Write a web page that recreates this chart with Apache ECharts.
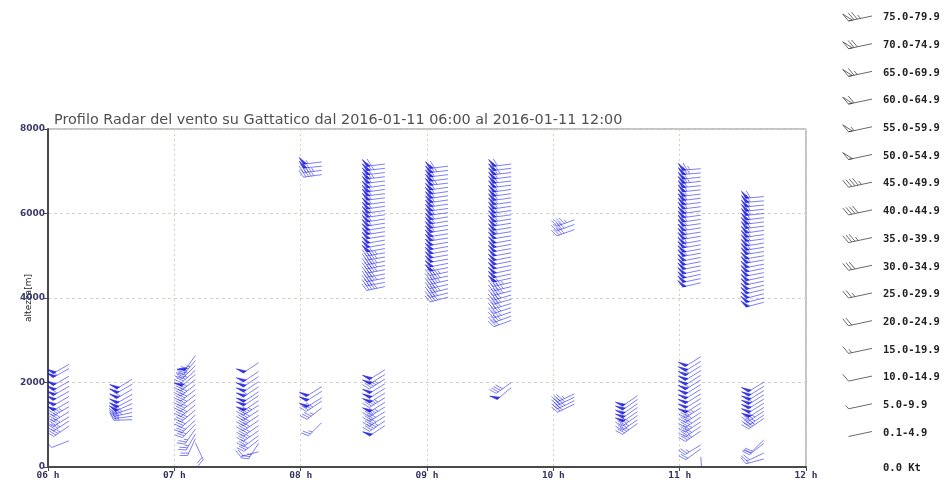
<!DOCTYPE html>
<html>
<head>
<meta charset="utf-8">
<script src="https://cdn.jsdelivr.net/npm/echarts@6/dist/echarts.min.js"></script>
<style>
  html, body { margin: 0; padding: 0; background: #ffffff; }
  #chart { width: 946px; height: 480px; }
</style>
</head>
<body>
<div id="chart"></div>
<script>
// Wind profiler: one vertical profile every 30 minutes.
// Each profile row: [altitude m, speed kt, direction the wind blows from, deg]
const profileTimes = ['06:10', '06:40', '07:10', '07:40', '08:10', '08:40',
                      '09:10', '09:40', '10:10', '10:40', '11:10', '11:40'];

const p0610 = [
  [2430, 50, 240], [2330, 55, 241], [2150, 50, 240], [2030, 50, 240], [1910, 55, 240],
  [1790, 50, 241], [1670, 50, 240], [1550, 50, 240], [1430, 45, 239], [1310, 40, 238],
  [1190, 40, 238], [1090, 35, 237], [970, 35, 236], [620, 10, 249]
];
const p0640 = [
  [2080, 50, 238], [1960, 50, 240], [1840, 55, 240], [1720, 50, 240], [1610, 50, 242],
  [1500, 50, 246], [1390, 40, 252], [1290, 35, 258], [1200, 30, 263], [1120, 25, 268]
];
const p0710 = [
  [2640, 50, 215], [2520, 45, 220], [2400, 35, 225], [2290, 35, 228], [2190, 50, 230],
  [2070, 40, 232], [1950, 40, 232], [1830, 40, 232], [1710, 35, 232], [1590, 35, 232],
  [1470, 35, 231], [1350, 35, 230], [1230, 30, 229], [1110, 30, 227], [1010, 30, 224],
  [900, 25, 215], [780, 25, 210], [670, 20, 205], [570, 20, 155]
];
const p0740 = [
  [2470, 50, 236], [2260, 50, 236], [2140, 50, 236], [2020, 50, 236], [1900, 55, 236],
  [1780, 50, 236], [1690, 50, 236], [1570, 50, 236], [1460, 45, 237], [1340, 40, 237],
  [1220, 40, 236], [1100, 40, 236], [980, 35, 235], [860, 35, 235], [740, 30, 234],
  [640, 30, 232], [560, 25, 213], [360, 20, 255]
];
const p0810 = [
  [7220, 55, 263], [7120, 50, 264], [7020, 45, 263], [6920, 45, 262],
  [1900, 50, 238], [1790, 50, 238], [1640, 50, 238], [1560, 40, 236], [1400, 35, 232],
  [1050, 25, 225]
];
const p0840 = [
  [7170, 60, 263], [7070, 65, 263], [6970, 60, 263], [6870, 65, 263], [6770, 60, 263],
  [6670, 60, 262], [6570, 60, 262], [6470, 60, 263], [6370, 55, 263], [6270, 60, 262],
  [6170, 55, 262], [6070, 55, 262], [5970, 55, 262], [5870, 55, 261], [5770, 55, 261],
  [5670, 50, 261], [5570, 55, 261], [5470, 50, 261], [5370, 50, 260], [5270, 50, 260],
  [5170, 50, 260], [5070, 45, 260], [4970, 45, 260], [4870, 45, 259], [4770, 45, 259],
  [4670, 45, 259], [4570, 40, 259], [4470, 45, 259], [4370, 40, 259], [4270, 45, 258],
  [2300, 50, 238], [2190, 50, 238], [2080, 45, 238], [1970, 50, 238], [1860, 50, 238],
  [1750, 50, 238], [1640, 45, 238], [1530, 50, 238], [1420, 45, 238], [1310, 40, 238],
  [1200, 40, 237], [1090, 45, 236], [980, 50, 236]
];
const p0910 = [
  [7120, 60, 263], [7020, 65, 263], [6920, 60, 263], [6820, 60, 263], [6720, 65, 263],
  [6620, 60, 262], [6520, 60, 262], [6420, 60, 262], [6320, 55, 262], [6220, 60, 262],
  [6120, 55, 262], [6020, 55, 262], [5920, 55, 261], [5820, 55, 261], [5720, 55, 261],
  [5620, 55, 261], [5520, 50, 261], [5420, 55, 261], [5320, 50, 260], [5220, 50, 260],
  [5120, 50, 260], [5020, 50, 260], [4920, 50, 260], [4820, 50, 259], [4720, 50, 259],
  [4620, 45, 258], [4520, 45, 258], [4420, 45, 257], [4320, 40, 257], [4220, 45, 256],
  [4120, 40, 256], [4020, 40, 255]
];
const p0940 = [
  [7170, 60, 263], [7070, 60, 263], [6970, 65, 263], [6870, 60, 263], [6770, 60, 263],
  [6670, 60, 263], [6570, 60, 262], [6470, 55, 262], [6370, 60, 262], [6270, 55, 262],
  [6170, 55, 262], [6070, 55, 262], [5970, 55, 262], [5870, 55, 261], [5770, 55, 261],
  [5670, 50, 261], [5570, 55, 261], [5470, 50, 261], [5370, 50, 260], [5270, 50, 260],
  [5170, 50, 260], [5070, 50, 260], [4970, 50, 259], [4870, 50, 259], [4770, 50, 259],
  [4670, 50, 258], [4570, 50, 258], [4470, 50, 258], [4370, 45, 257], [4270, 45, 256],
  [4170, 45, 255], [4070, 40, 254], [3970, 40, 254], [3870, 40, 253], [3770, 35, 252],
  [3670, 35, 251], [3570, 35, 250], [3470, 30, 250],
  [2000, 40, 234], [1880, 50, 230]
];
const p1010 = [
  [5850, 45, 250], [5740, 40, 250], [5620, 40, 250],
  [1730, 35, 245], [1650, 35, 245], [1570, 35, 244], [1490, 30, 244]
];
const p1040 = [
  [1690, 50, 235], [1600, 50, 235], [1500, 50, 235], [1410, 50, 235], [1310, 50, 236],
  [1220, 40, 235], [1120, 35, 235], [1030, 35, 234]
];
const p1110 = [
  [7060, 65, 265], [6960, 65, 265], [6860, 60, 264], [6760, 65, 264], [6660, 60, 264],
  [6560, 60, 264], [6460, 60, 263], [6360, 60, 263], [6260, 60, 263], [6160, 60, 263],
  [6060, 55, 262], [5960, 60, 262], [5860, 55, 262], [5760, 55, 262], [5660, 55, 261],
  [5560, 55, 261], [5460, 55, 261], [5360, 55, 260], [5260, 55, 260], [5160, 50, 260],
  [5060, 55, 260], [4960, 50, 259], [4860, 50, 259], [4760, 50, 259], [4660, 50, 258],
  [4560, 50, 258], [4460, 50, 258], [4360, 50, 257],
  [2610, 50, 238], [2500, 50, 238], [2390, 55, 238], [2280, 50, 238], [2170, 50, 238],
  [2060, 55, 238], [1950, 50, 238], [1840, 50, 238], [1730, 50, 238], [1620, 50, 238],
  [1510, 50, 238], [1400, 45, 237], [1290, 40, 237], [1180, 40, 236], [1070, 35, 236],
  [960, 40, 236], [850, 35, 236], [520, 25, 239], [430, 20, 234], [240, 10, 175]
];
const p1140 = [
  [6400, 60, 265], [6300, 60, 265], [6200, 60, 264], [6100, 60, 264], [6000, 60, 264],
  [5900, 60, 263], [5800, 55, 263], [5700, 60, 263], [5600, 55, 262], [5500, 55, 262],
  [5400, 55, 262], [5300, 55, 261], [5200, 55, 261], [5100, 55, 261], [5000, 50, 260],
  [4900, 55, 260], [4800, 50, 259], [4700, 50, 259], [4600, 50, 259], [4500, 50, 258],
  [4400, 50, 258], [4300, 50, 257], [4200, 50, 257], [4100, 50, 256], [4000, 50, 256],
  [3900, 50, 255],
  [2010, 50, 238], [1910, 50, 238], [1810, 50, 238], [1710, 55, 238], [1610, 50, 238],
  [1510, 50, 238], [1410, 50, 237], [1320, 40, 237], [1230, 35, 236], [1150, 35, 236],
  [640, 20, 226], [560, 20, 232], [330, 20, 245], [190, 15, 255]
];
const profiles = [p0610, p0640, p0710, p0740, p0810, p0840,
                  p0910, p0940, p1010, p1040, p1110, p1140];

// Speed classes shown in the key (kt)
const speedClassLabels = ['75.0-79.9', '70.0-74.9', '65.0-69.9', '60.0-64.9', '55.0-59.9',
  '50.0-54.9', '45.0-49.9', '40.0-44.9', '35.0-39.9', '30.0-34.9', '25.0-29.9',
  '20.0-24.9', '15.0-19.9', '10.0-14.9', '5.0-9.9', '0.1-4.9'];
const speedClassLow = [75, 70, 65, 60, 55, 50, 45, 40, 35, 30, 25, 20, 15, 10, 5, 0.1];
const calmLabel = '0.0 Kt';

const xTickLabels = ['06 h', '07 h', '08 h', '09 h', '10 h', '11 h', '12 h'];
const titleText = 'Profilo Radar del vento su Gattatico dal 2016-01-11 06:00 al 2016-01-11 12:00';

function toHours(t) {
  const parts = t.split(':');
  return Number(parts[0]) + Number(parts[1]) / 60;
}

const barbData = [];
profiles.forEach(function (rows, i) {
  const x = toHours(profileTimes[i]);
  rows.forEach(function (r) { barbData.push([x, r[0], r[1], r[2]]); });
});

// Wind barb: staff from the anchor toward the direction the wind comes from,
// pennants / full / half feathers at the outer end.
function barbShapes(px, py, kt, dir, o) {
  const a = dir * Math.PI / 180;
  const sx = Math.sin(a), sy = -Math.cos(a);
  const ex = px + sx * o.L, ey = py + sy * o.L;
  const fa = o.ang * Math.PI / 180;
  const fx = sx * Math.cos(fa) - sy * Math.sin(fa);
  const fy = sx * Math.sin(fa) + sy * Math.cos(fa);
  const lineStyle = { stroke: o.color, lineWidth: o.width, fill: null };
  const out = [{ type: 'polyline', shape: { points: [[px, py], [ex, ey]] }, style: lineStyle }];
  const q = function (p) { return [ex - sx * p, ey - sy * p]; };
  let v = Math.floor(kt / 5) * 5;
  let pos = 0;
  while (v >= 50) {
    const b1 = q(pos), b2 = q(pos + o.pw);
    out.push({
      type: 'polygon',
      shape: { points: [b1, [b1[0] + fx * o.len, b1[1] + fy * o.len], b2] },
      style: { fill: o.pennantFill, stroke: o.color, lineWidth: o.width }
    });
    pos += o.pw + o.gap * 0.5;
    v -= 50;
  }
  while (v >= 10) {
    const b = q(pos);
    out.push({ type: 'polyline', shape: { points: [b, [b[0] + fx * o.len, b[1] + fy * o.len]] }, style: lineStyle });
    pos += o.gap;
    v -= 10;
  }
  if (v >= 5) {
    const b = q(pos);
    const h = o.len * 0.5;
    out.push({ type: 'polyline', shape: { points: [b, [b[0] + fx * h, b[1] + fy * h]] }, style: lineStyle });
  }
  return out;
}

const chartBarb = { L: 18.5, len: 8, gap: 2.6, pw: 3.5, ang: 65, width: 0.8,
  color: 'rgba(25,25,235,0.7)', pennantFill: 'rgba(10,10,205,0.8)' };
const keyBarb = { L: 24, len: 9, gap: 3.3, pw: 4, ang: 62, width: 0.8,
  color: '#444444', pennantFill: 'none' };

// Key on the right: one sample barb per speed class
const keyGraphics = [];
speedClassLabels.forEach(function (lab, i) {
  const y = 18 + i * 27.7;
  keyGraphics.push({
    type: 'group', silent: true,
    children: barbShapes(872, y - 2, speedClassLow[i], 258, keyBarb)
  });
  keyGraphics.push({
    type: 'text', left: 883, top: y - 6,
    style: { text: lab, fill: '#222222', font: 'bold 10.5px "DejaVu Sans Mono"' }
  });
});
keyGraphics.push({
  type: 'text', left: 883, top: 463,
  style: { text: calmLabel, fill: '#222222', font: 'bold 10.5px "DejaVu Sans Mono"' }
});

const chart = echarts.init(document.getElementById('chart'), null, { renderer: 'canvas' });
chart.setOption({
  animation: false,
  backgroundColor: '#ffffff',
  title: {
    text: titleText, left: 49, top: 108,
    textStyle: { fontFamily: 'DejaVu Sans', fontSize: 14.4, fontWeight: 'normal', color: '#505050' }
  },
  grid: {
    left: 48, right: 140, top: 129, bottom: 13,
    outerBoundsMode: 'none', containLabel: false,
    show: true, borderColor: '#888888', borderWidth: 1
  },
  xAxis: {
    type: 'value', min: 6, max: 12, interval: 1,
    axisLine: { show: true, lineStyle: { color: '#4a4a4a', width: 2 } },
    axisTick: { show: true, length: 4, lineStyle: { color: '#4a4a4a' } },
    axisLabel: {
      margin: 4,
      fontFamily: 'DejaVu Sans Mono', fontWeight: 'bold', fontSize: 9.5, color: '#33335e',
      formatter: function (v) { return xTickLabels[Math.round(v - 6)]; }
    },
    splitLine: { show: true, lineStyle: { type: [2, 3], color: '#d2d2c6', width: 1 } }
  },
  yAxis: {
    type: 'value', min: 0, max: 8000, interval: 2000,
    name: 'altezza[m]', nameLocation: 'middle', nameGap: 15, nameMoveOverlap: false,
    nameTextStyle: { fontFamily: 'DejaVu Sans', fontSize: 9, color: '#222222' },
    axisLine: { show: true, lineStyle: { color: '#4a4a4a', width: 2 } },
    axisTick: { show: true, length: 5, lineStyle: { color: '#4a4a4a' } },
    axisLabel: {
      margin: 3, fontFamily: 'DejaVu Sans', fontWeight: 'bold', fontSize: 9, color: '#3a3a6e',
      formatter: function (v) { return String(v); }
    },
    splitLine: { show: true, lineStyle: { type: [3, 3], color: '#d2d2c6', width: 1 } }
  },
  graphic: keyGraphics,
  series: [{
    type: 'custom',
    clip: true,
    data: barbData,
    renderItem: function (params, api) {
      const p = api.coord([api.value(0), api.value(1)]);
      return { type: 'group', children: barbShapes(p[0], p[1], api.value(2), api.value(3), chartBarb) };
    }
  }]
});
</script>
</body>
</html>
